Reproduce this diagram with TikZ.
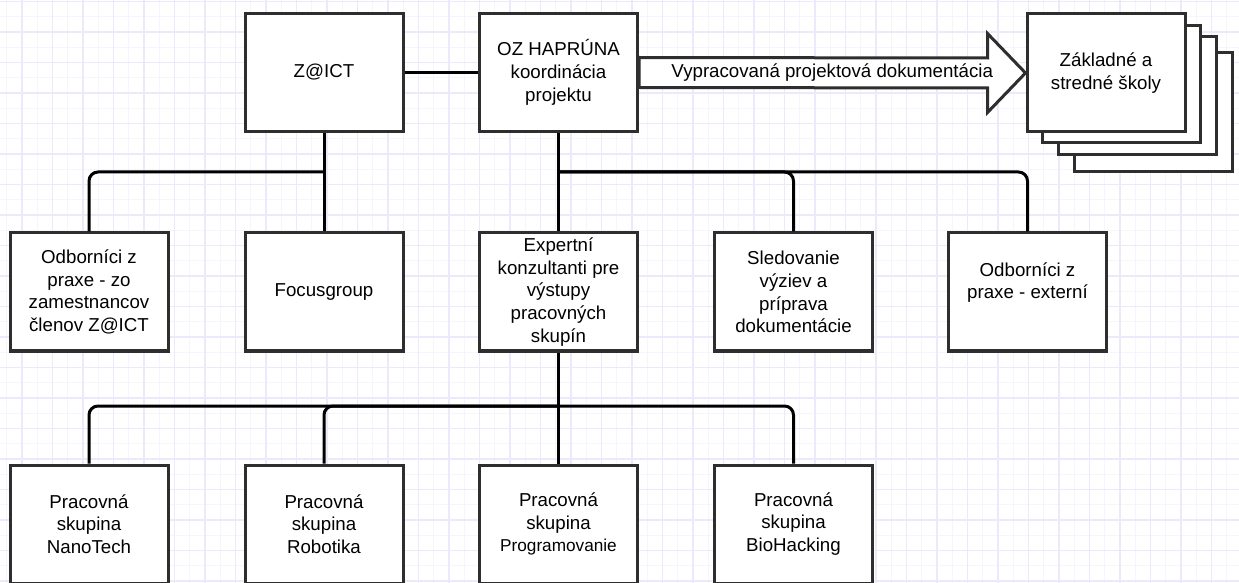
\documentclass[tikz,border=0pt]{standalone}
\usepackage{fontspec}
\setmainfont{Liberation Sans}
\usepackage{xcolor}
\usetikzlibrary{arrows,positioning,shapes}
\definecolor{gridmajor}{HTML}{EAEAFA}
\definecolor{gridminor}{HTML}{F5F5FD}
\definecolor{boxline}{HTML}{2E2E2E}

\begin{document}
\begin{tikzpicture}[x=0.5pt, y=-0.5pt,
    box/.style={draw=boxline, line width=1.5pt, fill=white, minimum width=79pt, minimum height=59pt,
        inner sep=2pt, align=center, font=\fontsize{9.35}{11.35}\selectfont},
    link/.style={line width=1.5pt, rounded corners=4.5pt}]
    % 背景の方眼
    \useasboundingbox (0,0) rectangle (1239,583);
    \fill[white] (0,0) rectangle (1239,583);
    \foreach \i in {0,...,81} \draw[gridminor, line width=0.6pt] ({6.75+15.25*\i},0) -- ({6.75+15.25*\i},583);
    \foreach \i in {0,...,38} \draw[gridminor, line width=0.6pt] (0,{1.5+15.25*\i}) -- (1239,{1.5+15.25*\i});
    \foreach \i in {0,...,40} \draw[gridmajor, line width=0.6pt] ({22+30.5*\i},0) -- ({22+30.5*\i},583);
    \foreach \i in {0,...,19} \draw[gridmajor, line width=0.6pt] (0,{1.5+30.5*\i}) -- (1239,{1.5+30.5*\i});

    % 上段
    \node[box] (zict) at (324,72.5) {Z@ICT};
    \node[box] (ozh) at (558.5,72.5) {OZ HAPRÚNA\\koordinácia\\projektu};

    % 学校の束
    \draw[box] (1074,53) rectangle (1232,172);
    \draw[box] (1058,37) rectangle (1216,155);
    \draw[box] (1042,26) rectangle (1200,143);
    \node[box] (skoly) at (1106,73) {Základné a\\stredné školy};

    % 太い矢印
    \draw[box] ([yshift=7.5pt]ozh.east) -- ([xshift=-19pt, yshift=7.5pt]skoly.west)
        -- ([xshift=-19pt, yshift=19.75pt]skoly.west) -- (skoly.west)
        -- ([xshift=-19pt, yshift=-19.75pt]skoly.west) -- ([xshift=-19pt, yshift=-7.5pt]skoly.west)
        -- ([yshift=-7.5pt]ozh.east) -- cycle;
    \path (ozh.east) -- (skoly.west) node[pos=0.5, font=\fontsize{9.35}{11.35}\selectfont] (doklabel) {Vypracovaná projektová dokumentácia};

    % 中段
    \node[box] (odbzo) at (89,292) {Odborníci z\\praxe - zo\\zamestnancov\\členov Z@ICT};
    \node[box] (focus) at (324,292) {Focusgroup};
    \node[box] (expert) at (558.5,292) {Expertní\\konzultanti pre\\výstupy\\pracovných\\skupín};
    \node[box] (sled) at (793.5,292) {Sledovanie\\výziev a\\príprava\\dokumentácie};
    \node[box] (odbext) at (1027.5,292) {Odborníci z\\praxe - externí\\\mbox{}};

    % 下段
    \node[box] (nano) at (89,524) {Pracovná\\skupina\\NanoTech};
    \node[box] (robo) at (324,524) {Pracovná\\skupina\\Robotika};
    \node[box] (prog) at (558.5,524) {Pracovná\\skupina\\{\fontsize{8.6}{11.35}\selectfont Programovanie}};
    \node[box] (bio) at (793.5,524) {Pracovná\\skupina\\BioHacking};

    % 接続線
    \draw[link] (zict) -- (ozh);
    \draw[link] (zict) -- (focus);
    \coordinate (zsplit) at (324,172);
    \draw[link] (zsplit) -| (odbzo.north);
    \draw[link] (ozh) -- (expert);
    \coordinate (osplit) at (558.5,172);
    \draw[link] (osplit) -| (sled.north);
    \draw[link] (osplit) -| (odbext.north);
    \draw[link] (expert) -- (prog);
    \coordinate (esplit) at (558.5,406);
    \draw[link] (esplit) -| (nano.north);
    \draw[link] (esplit) -| (robo.north);
    \draw[link] (esplit) -| (bio.north);
\end{tikzpicture}
\end{document}
